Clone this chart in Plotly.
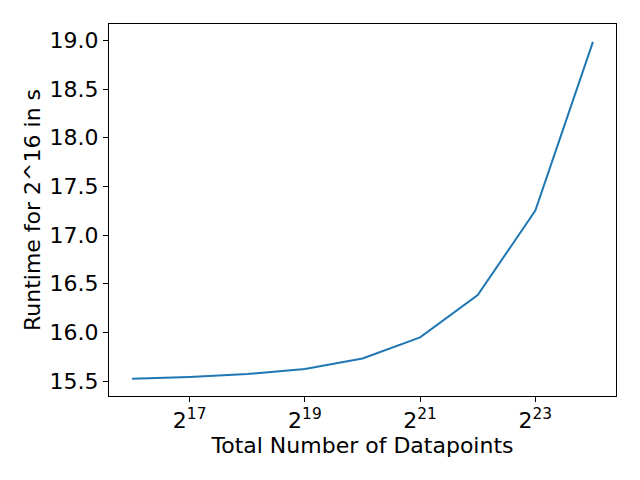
import math
import plotly.graph_objects as go

# total number of datapoints as powers of two, runtime in seconds
exponents = [16, 17, 18, 19, 20, 21, 22, 23, 24]
runtimes = [15.524, 15.541, 15.571, 15.623, 15.731, 15.948, 16.383, 17.252, 18.985]
xtick_exponents = [17, 19, 21, 23]
ytick_values = [15.5, 16.0, 16.5, 17.0, 17.5, 18.0, 18.5, 19.0]

datapoints = [2 ** e for e in exponents]

fig = go.Figure()
fig.add_trace(go.Scatter(x=datapoints, y=runtimes, mode="lines",
                         line=dict(color="#1f77b4", width=2)))

axis_style = dict(showline=True, linecolor="black", linewidth=1, mirror=True,
                  ticks="outside", ticklen=5, tickwidth=1, tickcolor="black",
                  showgrid=False, zeroline=False, automargin=False,
                  tickfont=dict(size=22, color="black"))

# page body adds 8px offset, so the figure is 8px smaller than the window
fig.update_layout(
    width=632, height=472,
    paper_bgcolor="white", plot_bgcolor="white",
    font=dict(family="DejaVu Sans", size=22, color="black"),
    showlegend=False,
    margin=dict(l=101, r=24, t=16, b=84),
    xaxis=dict(type="log",
               range=[15.6 * math.log10(2), 24.4 * math.log10(2)],
               tickvals=[2 ** e for e in xtick_exponents],
               ticktext=[f"2<sup>{e}</sup>" for e in xtick_exponents],
               title=dict(text="Total Number of Datapoints", standoff=1,
                          font=dict(size=22)),
               **axis_style),
    yaxis=dict(range=[15.346, 19.169],
               tickvals=ytick_values,
               ticktext=[f"{v:.1f}" for v in ytick_values],
               title=dict(text="Runtime for 2^16 in s", standoff=2,
                          font=dict(size=22)),
               **axis_style),
)

fig.write_html("out.html")
